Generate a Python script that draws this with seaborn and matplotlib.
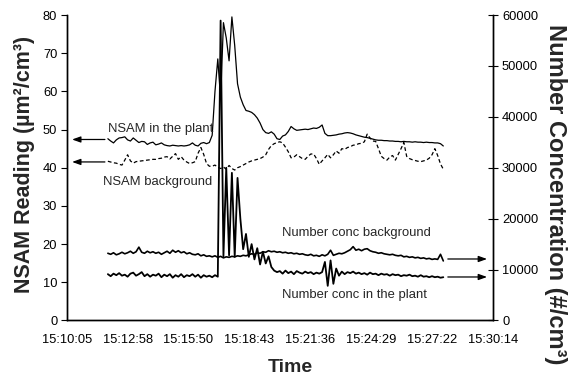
import numpy as np
import pandas as pd
import matplotlib
matplotlib.use("Agg")
import matplotlib.pyplot as plt
import seaborn as sns

# ---------------- data ----------------
tick_labels = ["15:10:05", "15:12:58", "15:15:50", "15:18:43",
               "15:21:36", "15:24:29", "15:27:22", "15:30:14"]
start_time = "15:12:01"     # first sample
step_seconds = 8            # sampling interval

nsam_plant = [
    47.6, 47.0, 46.5, 47.3, 47.8, 47.9, 48.1, 47.3, 47.0, 47.8,
    47.2, 46.6, 46.9, 46.8, 46.1, 46.5, 46.7, 46.0, 46.2, 46.5,
    46.0, 45.8, 45.7, 45.9, 45.8, 45.7, 45.8, 45.7, 45.8, 46.0,
    46.5, 45.9, 45.7, 46.4, 46.6, 46.3, 46.6, 48.5, 60.0, 68.5,
    58.0, 78.0, 74.0, 68.0, 79.5, 72.0, 62.0, 58.5, 56.5, 55.0,
    54.8, 54.5, 53.9, 53.0, 51.7, 50.0, 49.2, 49.0, 49.4, 48.8,
    47.6, 47.4, 48.3, 48.6, 49.5, 50.8, 50.2, 49.8, 49.9, 50.0,
    50.1, 50.0, 50.2, 50.4, 50.3, 50.6, 51.2, 49.0, 48.4, 48.4,
    48.5, 48.6, 48.8, 48.9, 49.1, 49.2, 49.1, 48.9, 48.6, 48.4,
    48.2, 48.0, 47.9, 47.7, 47.5, 47.3, 47.2, 47.2, 47.1, 47.1,
    47.0, 47.0, 46.9, 46.9, 46.8, 46.9, 46.8, 46.8, 46.7, 46.8,
    46.7, 46.7, 46.6, 46.7, 46.6, 46.6, 46.5, 46.5, 46.3, 45.7,
]

nsam_background = [
    41.7, 41.5, 41.3, 41.2, 40.9, 40.7, 42.0, 43.4, 41.8, 41.2,
    41.6, 41.7, 41.8, 41.9, 42.0, 42.1, 42.2, 42.2, 42.4, 42.5,
    42.8, 42.9, 42.3, 43.0, 43.7, 42.2, 42.9, 42.0, 41.5, 41.1,
    41.3, 41.6, 43.8, 45.3, 43.5, 41.1, 40.4, 40.4, 40.7, 40.1,
    39.8, 40.2, 39.6, 40.6, 39.8, 39.4, 40.0, 40.3, 40.7, 41.1,
    41.5, 41.8, 42.0, 42.2, 42.4, 42.8, 43.4, 44.8, 45.8, 46.3,
    46.6, 46.8, 46.5, 45.4, 44.2, 42.6, 42.8, 43.4, 42.9, 42.4,
    42.2, 43.0, 43.6, 43.6, 42.4, 40.9, 41.8, 42.6, 43.5, 42.6,
    43.4, 44.4, 43.8, 45.0, 44.8, 45.3, 45.5, 45.9, 46.0, 46.3,
    46.4, 46.8, 48.8, 47.8, 47.0, 46.9, 45.0, 43.0, 42.4, 42.0,
    42.8, 43.2, 42.0, 43.5, 45.0, 46.6, 43.0, 42.4, 42.1, 41.9,
    41.7, 41.6, 41.8, 42.0, 42.5, 43.4, 45.0, 43.2, 41.0, 39.6,
]

conc_background = [
    13200, 13000, 13300, 12900, 13100, 13400, 13100, 13300, 13600, 13200,
    13500, 14400, 13400, 13200, 13600, 13300, 13500, 13200, 13400, 13000,
    13300, 13600, 13200, 13800, 13400, 13700, 13300, 13500, 13100, 13300,
    13000, 12900, 13100, 12700, 12900, 12600, 12700, 12500, 12700, 12400,
    12600, 12300, 12500, 12400, 12600, 12500, 12700, 12600, 12800, 12700,
    12900, 13100, 13000, 13300, 13200, 13500, 13400, 13700, 13500, 13600,
    13400, 13500, 13300, 13400, 13200, 13300, 13100, 13200, 13000, 13100,
    12900, 12800, 13000, 12700, 12800, 12600, 12900, 12700, 13000, 13800,
    12800, 13000, 13200, 13100, 13300, 13600, 13900, 14500, 13800, 14000,
    13700, 14000, 14100, 13700, 13500, 13400, 13200, 13300, 13100, 13000,
    12900, 13000, 12800, 12700, 12800, 12500, 12600, 12400, 12500, 12300,
    12400, 12200, 12300, 12100, 12200, 12000, 12100, 12000, 13000, 11700,
]

conc_plant = [
    9100, 8700, 9200, 8900, 9300, 8800, 9000, 8600, 9200, 9400,
    8800, 9100, 9500, 8700, 9100, 8600, 9000, 8800, 9200, 8500,
    9000, 8700, 9100, 8400, 8900, 8600, 9100, 8500, 8900, 8700,
    9100, 8600, 9000, 8400, 8900, 8600, 8800, 8500, 8900, 8600,
    58900, 12600, 30000, 12800, 29000, 12500, 28000, 20000, 14000, 17000,
    12500, 15000, 12000, 14200, 11000, 13500, 11200, 12600, 10500, 9800,
    9500, 9700, 9200, 9800, 9300, 9600, 9100, 9700, 9400, 9200,
    9600, 9300, 9500, 9100, 9400, 9200, 9500, 11500, 6800, 11800,
    7200, 10200, 8800, 9600, 9100, 9500, 9300, 9600, 9200, 9400,
    9100, 9300, 9000, 9400, 9100, 9200, 8900, 9200, 9000, 9100,
    8800, 9100, 8900, 9000, 8700, 8900, 8800, 9000, 8700, 8800,
    8600, 8900, 8600, 8700, 8500, 8700, 8500, 8600, 8400, 8500,
]


def to_sec(s):
    h, m, x = (int(v) for v in s.split(":"))
    return h * 3600 + m * 60 + x


t0 = to_sec(tick_labels[0])
tick_pos = [to_sec(s) - t0 for s in tick_labels]
n = len(nsam_plant)
t = to_sec(start_time) - t0 + step_seconds * np.arange(n)

df = pd.DataFrame({
    "t": t,
    "nsam_plant": nsam_plant,
    "nsam_background": nsam_background,
    "conc_background": conc_background,
    "conc_plant": conc_plant,
})

# ---------------- plot ----------------
sns.set_style("white")
plt.rcParams["font.family"] = ["Liberation Sans", "DejaVu Sans"]

W, H = 577, 379
fig, ax = plt.subplots(figsize=(W / 100, H / 100), dpi=100)
fig.subplots_adjust(left=0.1161, right=0.8544, top=0.9604, bottom=0.1544)
ax2 = ax.twinx()

sns.lineplot(data=df, x="t", y="nsam_plant", ax=ax, color="black",
             lw=0.9, estimator=None, sort=False)
sns.lineplot(data=df, x="t", y="nsam_background", ax=ax, color="black",
             lw=0.9, estimator=None, sort=False)
ax.lines[-1].set_linestyle((0, (3, 2)))
sns.lineplot(data=df, x="t", y="conc_background", ax=ax2, color="black",
             lw=1.2, estimator=None, sort=False)
sns.lineplot(data=df, x="t", y="conc_plant", ax=ax2, color="black",
             lw=1.3, estimator=None, sort=False)

ax.set_xlim(tick_pos[0], tick_pos[-1])
ax.set_ylim(0, 80)
ax2.set_ylim(0, 60000)
ax.set_xticks(tick_pos)
ax.set_xticklabels(tick_labels)
ax.set_yticks(np.arange(0, 81, 10))
ax2.set_yticks(np.arange(0, 60001, 10000))

for a in (ax, ax2):
    a.spines["top"].set_visible(False)
    for sp in a.spines.values():
        sp.set_linewidth(1.0)
        sp.set_color("black")
ax.tick_params(axis="both", direction="out", length=4, width=0.8,
               labelsize=9.3, colors="black", pad=3)
ax.tick_params(axis="x", pad=6)
ax2.tick_params(axis="y", direction="inout", length=7, width=0.8,
                labelsize=9.3, colors="black", pad=3)

ax.set_xlabel("")
ax.set_ylabel("")
ax2.set_ylabel("")
fig.text(290 / W, 1 - 368 / H, "Time", fontsize=14, fontweight="bold",
         ha="center", va="center")
fig.text(25 / W, 1 - 164 / H, "NSAM Reading (µm²/cm³)", fontsize=15.5,
         fontweight="bold", rotation=90, ha="center", va="center")
fig.text(556 / W, 1 - 194 / H, "Number Concentration (#/cm³)", fontsize=17,
         fontweight="bold", rotation=270, ha="center", va="center")

# annotations
fs = 9.4
ax.text(0.096, 0.627, "NSAM in the plant", transform=ax.transAxes,
        fontsize=fs, va="center", ha="left")
ax.text(0.0845, 0.453, "NSAM background", transform=ax.transAxes,
        fontsize=fs, va="center", ha="left")
ax.text(0.505, 0.286, "Number conc background", transform=ax.transAxes,
        fontsize=fs, va="center", ha="left")
ax.text(0.505, 0.0835, "Number conc in the plant", transform=ax.transAxes,
        fontsize=fs, va="center", ha="left")

arrow = dict(arrowstyle="-|>,head_length=0.5,head_width=0.18", color="black",
             lw=0.9, shrinkA=0, shrinkB=0)
for y in (0.5925, 0.519):
    ax.annotate("", xy=(0.012, y), xytext=(0.089, y),
                xycoords="axes fraction", textcoords="axes fraction",
                arrowprops=arrow)
for y in (0.2013, 0.1424):
    ax.annotate("", xy=(0.986, y), xytext=(0.894, y),
                xycoords="axes fraction", textcoords="axes fraction",
                arrowprops=arrow)

fig.savefig("out.png", dpi=100)
